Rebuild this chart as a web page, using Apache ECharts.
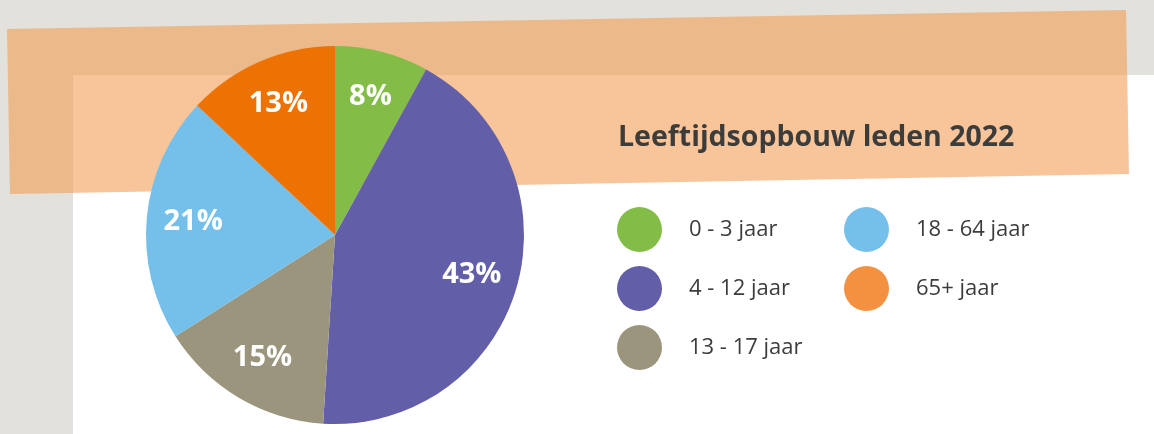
<!DOCTYPE html>
<html>
<head>
<meta charset="utf-8">
<title>Leeftijdsopbouw leden 2022</title>
<script src="https://cdn.jsdelivr.net/npm/echarts@6/dist/echarts.min.js"></script>
<style>
  html, body { margin: 0; padding: 0; background: #e2e1db; }
  #chart { width: 1154px; height: 434px; }
</style>
</head>
<body>
<div id="chart"></div>
<script>
// leeftijdsgroepen en aandelen (%)
var categories = ['0 - 3 jaar', '4 - 12 jaar', '13 - 17 jaar', '18 - 64 jaar', '65+ jaar'];
var shares = [8, 43, 15, 21, 13];
var sliceColors = ['#83bd48', '#625ea8', '#9a957c', '#74c0ea', '#ee7203'];
var legendColors = ['#83bd48', '#625ea8', '#9a957c', '#74c0ea', '#f39140'];

var chart = echarts.init(document.getElementById('chart'));

var pieData = categories.map(function (name, i) {
  return { name: name, value: shares[i], itemStyle: { color: sliceColors[i] } };
});

function legendItems(from, to) {
  var items = [];
  for (var i = from; i < to; i++) {
    items.push({ name: categories[i], itemStyle: { color: legendColors[i] } });
  }
  return items;
}

var legendBase = {
  orient: 'vertical',
  icon: 'circle',
  padding: 0,
  itemWidth: 45,
  itemHeight: 45,
  itemGap: 14,
  selectedMode: false,
  textStyle: {
    fontFamily: 'Open Sans',
    fontSize: 22,
    color: '#3c3c3b',
    padding: [0, 0, 0, 22]
  }
};

var option = {
  animation: false,
  backgroundColor: '#e2e1db',
  graphic: [
    // wit vlak
    { type: 'rect', z: 0, shape: { x: 73, y: 75, width: 1100, height: 400 }, style: { fill: '#ffffff' } },
    // schuine oranje band
    {
      type: 'polygon', z: 1,
      shape: { points: [[7, 29], [1126, 10], [1129, 174], [10, 194]] },
      style: { fill: 'rgba(243,156,83,0.59)' }
    }
  ],
  title: {
    text: 'Leeftijdsopbouw leden 2022',
    left: 613,
    top: 118,
    textStyle: {
      fontFamily: 'Open Sans',
      fontWeight: 'bold',
      fontSize: 28.5,
      color: '#3c3c3b'
    }
  },
  legend: [
    Object.assign({ left: 617, top: 207, data: legendItems(0, 3) }, legendBase),
    Object.assign({ left: 844, top: 207, data: legendItems(3, 5) }, legendBase)
  ],
  series: [
    {
      type: 'pie',
      center: [335, 235],
      radius: 189,
      startAngle: 90,
      clockwise: true,
      label: { show: false },
      labelLine: { show: false },
      emphasis: { disabled: true },
      data: pieData
    },
    {
      // alleen voor de percentages
      type: 'pie',
      center: [335, 235],
      radius: [90, 189],
      startAngle: 90,
      silent: true,
      legendHoverLink: false,
      itemStyle: { color: 'rgba(0,0,0,0)' },
      label: {
        show: true,
        position: 'inside',
        formatter: '{c}%',
        color: '#ffffff',
        fontFamily: 'Open Sans',
        fontWeight: 'bold',
        fontSize: 29
      },
      labelLine: { show: false },
      data: categories.map(function (name, i) {
        return { name: name + ' ', value: shares[i] };
      })
    }
  ]
};

chart.setOption(option);
</script>
</body>
</html>
